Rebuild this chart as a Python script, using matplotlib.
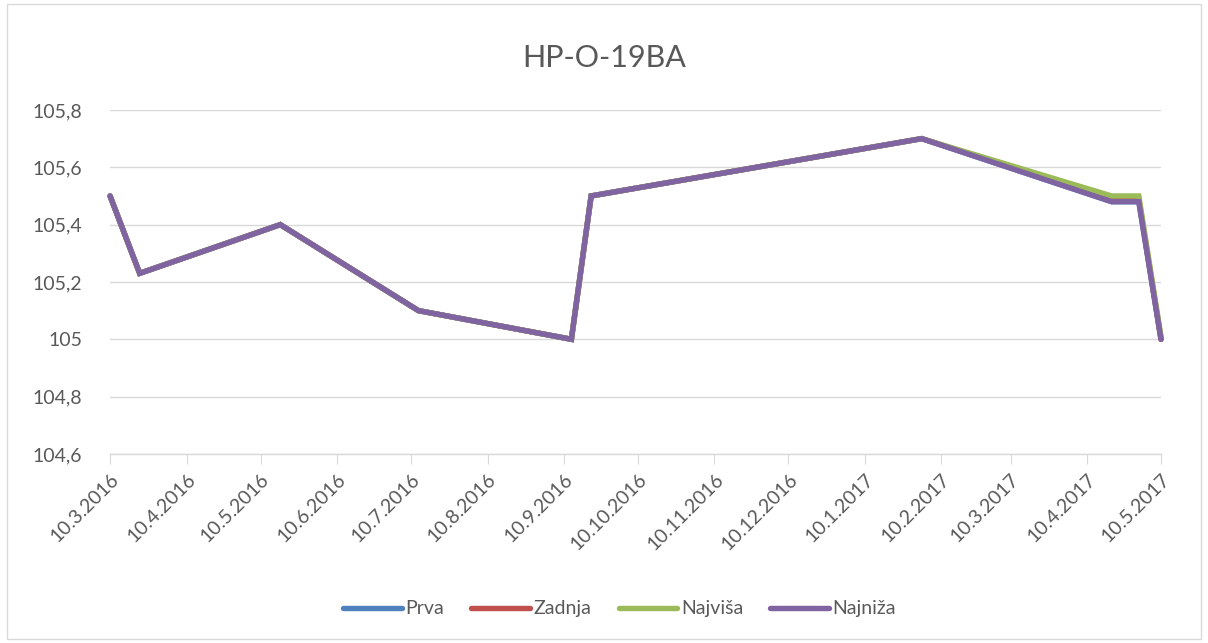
import matplotlib
matplotlib.use('Agg')
import matplotlib.pyplot as plt
import matplotlib.dates as mdates
from matplotlib.ticker import FuncFormatter
from matplotlib.patches import Rectangle
import datetime as dt

plt.rcParams['font.family'] = ['Lato', 'DejaVu Sans']

# Data
dates = [dt.date(2016, 3, 10), dt.date(2016, 3, 22), dt.date(2016, 5, 18),
         dt.date(2016, 7, 13), dt.date(2016, 9, 13), dt.date(2016, 9, 21),
         dt.date(2017, 2, 2), dt.date(2017, 4, 20), dt.date(2017, 5, 1),
         dt.date(2017, 5, 10)]
prva = [105.5, 105.23, 105.4, 105.1, 105.0, 105.5, 105.7, 105.48, 105.48, 105.0]
zadnja = [105.5, 105.23, 105.4, 105.1, 105.0, 105.5, 105.7, 105.49, 105.49, 105.0]
najvisa = [105.5, 105.23, 105.4, 105.1, 105.0, 105.5, 105.7, 105.5, 105.5, 105.01]
najniza = [105.5, 105.23, 105.4, 105.1, 105.0, 105.5, 105.7, 105.48, 105.48, 105.0]

series = [('Prva', prva, '#4F81BD'),
          ('Zadnja', zadnja, '#C0504D'),
          ('Najviša', najvisa, '#9BBB59'),
          ('Najniža', najniza, '#8064A2')]

fig = plt.figure(figsize=(12.08, 6.43), dpi=100)
ax = fig.add_axes([0.0911, 0.294, 0.8700, 0.535])

for name, vals, col in series:
    ax.plot(dates, vals, color=col, lw=3.9, label=name, solid_capstyle='round',
            solid_joinstyle='miter', clip_on=False)

ax.set_xlim(dt.date(2016, 3, 10), dt.date(2017, 5, 10))
ax.set_ylim(104.6, 105.8)
ax.set_yticks([104.6, 104.8, 105.0, 105.2, 105.4, 105.6, 105.8])
ax.yaxis.set_major_formatter(FuncFormatter(lambda v, p: f"{round(v, 1):g}".replace('.', ',')))

ax.xaxis.set_major_locator(mdates.MonthLocator(bymonthday=10))
ax.xaxis.set_major_formatter(FuncFormatter(
    lambda v, p: "{d.day}.{d.month}.{d.year}".format(d=mdates.num2date(v))))

ax.grid(axis='y', color='#D9D9D9', lw=1)
ax.set_axisbelow(True)
for s in ['left', 'right', 'top']:
    ax.spines[s].set_visible(False)
ax.spines['bottom'].set_color('#D9D9D9')
ax.spines['bottom'].set_linewidth(1)

ax.tick_params(axis='y', length=0, pad=20, labelsize=14, labelcolor='#595959')
ax.tick_params(axis='x', length=7, color='#D9D9D9', pad=5, labelsize=14,
               labelcolor='#595959')
for lab in ax.get_xticklabels():
    lab.set_rotation(45)
    lab.set_ha('right')
    lab.set_rotation_mode('anchor')

fig.text(0.5, 0.91, 'HP-O-19BA', ha='center', va='center', fontsize=22,
         color='#595959')

ax.legend(loc='center', bbox_to_anchor=(0.513, 0.053), bbox_transform=fig.transFigure,
          ncol=4, frameon=False, fontsize=14, labelcolor='#595959',
          handlelength=3.0, handletextpad=0.2, columnspacing=1.4)

fig.patches.append(Rectangle((0.006, 0.006), 0.988, 0.988, transform=fig.transFigure,
                             fill=False, edgecolor='#D9D9D9', lw=1))

fig.savefig('out.png', dpi=100)
